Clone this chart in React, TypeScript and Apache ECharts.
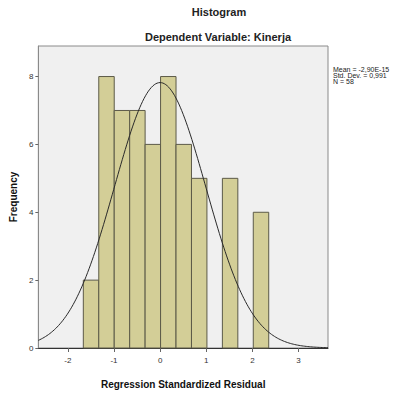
import React, { useEffect, useRef } from "react";
import * as echarts from "echarts";

// Histogram bins (left edges, width) and frequencies
const binStarts = [-1.665, -1.33, -0.995, -0.66, -0.325, 0.01, 0.345, 0.68, 1.015, 1.35, 1.685, 2.02];
const binWidth = 0.335;
const counts = [2, 8, 7, 7, 6, 8, 6, 5, 0, 5, 0, 4];

// Reported statistics
const statMean = 0;
const statSd = 0.991;
const statN = 58;
const statLines = ["Mean = -2,90E-15", "Std. Dev. = 0,991", "N = 58"];

const titleText = "Histogram";
const subtitleText = "Dependent Variable: Kinerja";

const xTicks = [-2, -1, 0, 1, 2, 3];
const yTicks = [0, 2, 4, 6, 8];
const xMin = -2.64;
const xMax = 3.64;
const yMax = 8.9;

const FONT = "Liberation Sans, Arial, sans-serif";

function normalCurve(): number[][] {
  const pts: number[][] = [];
  const steps = 200;
  const scale = (statN * binWidth) / (statSd * Math.sqrt(2 * Math.PI));
  for (let i = 0; i <= steps; i++) {
    const x = xMin + ((xMax - xMin) * i) / steps;
    const z = (x - statMean) / statSd;
    pts.push([x, scale * Math.exp(-0.5 * z * z)]);
  }
  return pts;
}

export default function App() {
  const ref = useRef<HTMLDivElement>(null);
  useEffect(() => {
    if (!ref.current) return;
    const chart = echarts.init(ref.current, undefined, { renderer: "svg" });
    const barData = binStarts.map((s, i) => [s, s + binWidth, counts[i]]).filter((d) => d[2] > 0);
    chart.setOption({
      animation: false,
      backgroundColor: "#ffffff",
      textStyle: { fontFamily: FONT },
      graphic: [
        {
          type: "text",
          x: 219,
          y: 12,
          style: { text: titleText, fontSize: 11, fontWeight: "bold", fill: "#222", fontFamily: FONT, align: "center", verticalAlign: "middle" },
        },
        {
          type: "text",
          x: 218,
          y: 37,
          style: { text: subtitleText, fontSize: 11, fontWeight: "bold", fill: "#222", fontFamily: FONT, align: "center", verticalAlign: "middle" },
        },
        ...statLines.map((t, i) => ({
          type: "text",
          x: 333,
          y: 69 + i * 6,
          style: { text: t, fontSize: 7, fill: "#222", fontFamily: FONT, align: "left", verticalAlign: "middle" },
        })),
      ],
      grid: {
        left: 36,
        top: 46,
        width: 292,
        height: 307,
        show: true,
        backgroundColor: "#f0f0f0",
        borderColor: "#8a8a8a",
        borderWidth: 1,
      },
      xAxis: {
        type: "value",
        min: xMin,
        max: xMax,
        name: "Regression Standardized Residual",
        nameLocation: "middle",
        nameGap: 31,
        nameTextStyle: { fontSize: 10, fontWeight: "bold", color: "#111", fontFamily: FONT },
        splitLine: { show: false },
        axisLine: { show: true, onZero: false, lineStyle: { color: "#333", width: 1 } },
        axisTick: { show: true, length: 4, lineStyle: { color: "#666" }, customValues: xTicks },
        axisLabel: { fontSize: 8, color: "#333", margin: 8, customValues: xTicks },
      },
      yAxis: {
        type: "value",
        min: 0,
        max: yMax,
        name: "Frequency",
        nameLocation: "middle",
        nameGap: 18,
        nameRotate: 90,
        nameTextStyle: { fontSize: 10, fontWeight: "bold", color: "#111", fontFamily: FONT },
        splitLine: { show: false },
        axisLine: { show: true, onZero: false, lineStyle: { color: "#8a8a8a", width: 1 } },
        axisTick: { show: true, length: 3, lineStyle: { color: "#666" }, customValues: yTicks },
        axisLabel: { fontSize: 8, color: "#333", margin: 5, customValues: yTicks },
      },
      series: [
        {
          type: "custom",
          data: barData,
          renderItem: (params: any, api: any) => {
            const p0 = api.coord([api.value(0), api.value(2)]);
            const p1 = api.coord([api.value(1), 0]);
            return {
              type: "rect",
              shape: { x: p0[0], y: p0[1], width: p1[0] - p0[0], height: p1[1] - p0[1] },
              style: { fill: "#d3ce97", stroke: "#5c5a48", lineWidth: 1 },
            };
          },
          encode: { x: [0, 1], y: 2 },
          silent: true,
        },
        {
          type: "line",
          data: normalCurve(),
          showSymbol: false,
          smooth: false,
          lineStyle: { color: "#2a2a2a", width: 1 },
          silent: true,
          z: 5,
        },
      ],
    });
    return () => chart.dispose();
  }, []);
  return (
    <div
      ref={ref}
      style={{ position: "fixed", left: 0, top: 0, width: 393, height: 394 }}
    />
  );
}
